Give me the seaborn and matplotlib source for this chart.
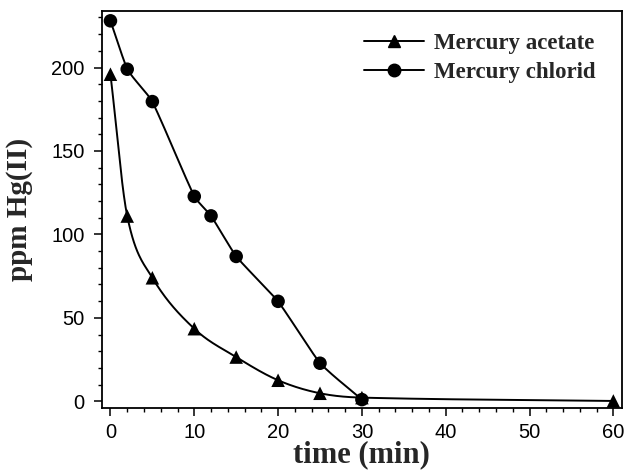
import numpy as np
import pandas as pd
import matplotlib
matplotlib.use("Agg")
import matplotlib.pyplot as plt
from matplotlib.lines import Line2D
from matplotlib.ticker import MultipleLocator
import seaborn as sns

# ---- data ----
acetate_time = [0, 2, 5, 10, 15, 20, 25, 30, 60]
acetate_ppm = [196, 111, 74, 43.5, 26.5, 12.6, 4.8, 2.2, 0.2]
chlorid_time = [0, 2, 5, 10, 12, 15, 20, 25, 30]
chlorid_ppm = [228, 199, 179.6, 122.8, 111.1, 86.8, 59.9, 22.8, 1.0]
series_names = ["Mercury acetate", "Mercury chlorid"]
x_ticks = [0, 10, 20, 30, 40, 50, 60]
y_ticks = [0, 50, 100, 150, 200]


def smooth_connect(x, y, xs, tension=0.0):
    """Cardinal (finite-difference Hermite) curve through the points, for drawing the line."""
    x = np.asarray(x, float); y = np.asarray(y, float)
    n = len(x); h = np.diff(x)
    m = np.empty(n)
    m[0] = (y[1] - y[0]) / h[0]
    m[-1] = (y[-1] - y[-2]) / h[-1]
    m[1:-1] = (y[2:] - y[:-2]) / (x[2:] - x[:-2])
    idx = np.clip(np.searchsorted(x, xs) - 1, 0, n - 2)
    t = (xs - x[idx]) / h[idx]
    chord = (y[idx + 1] - y[idx]) / h[idx]
    m0 = (1 - tension) * m[idx] + tension * chord
    m1 = (1 - tension) * m[idx + 1] + tension * chord
    h00 = 2 * t**3 - 3 * t**2 + 1; h10 = t**3 - 2 * t**2 + t
    h01 = -2 * t**3 + 3 * t**2; h11 = t**3 - t**2
    return h00 * y[idx] + h10 * h[idx] * m0 + h01 * y[idx + 1] + h11 * h[idx] * m1


sns.set_theme(style="ticks")
plt.rcParams["font.family"] = ["Liberation Sans", "DejaVu Sans"]

fig = plt.figure(figsize=(6.27, 4.70), dpi=100)
ax = fig.add_axes([0.1628, 0.132, 0.8288, 0.845])

points = pd.concat([
    pd.DataFrame({"time": acetate_time, "ppm": acetate_ppm, "series": series_names[0]}),
    pd.DataFrame({"time": chlorid_time, "ppm": chlorid_ppm, "series": series_names[1]}),
])

curves = []
for name, tx, ty, ten in [(series_names[0], acetate_time, acetate_ppm, 0.0),
                          (series_names[1], chlorid_time, chlorid_ppm, 0.6)]:
    xs = np.linspace(tx[0], tx[-1], 600)
    curves.append(pd.DataFrame({"time": xs, "ppm": smooth_connect(tx, ty, xs, ten),
                                "series": name}))
curves = pd.concat(curves)

sns.lineplot(data=curves, x="time", y="ppm", hue="series",
             palette=["black", "black"], linewidth=1.4, ax=ax, legend=False,
             sort=False, estimator=None)
sns.scatterplot(data=points, x="time", y="ppm", style="series",
                markers={series_names[0]: "^", series_names[1]: "o"},
                color="black", s=95, edgecolor="black", linewidth=0,
                ax=ax, legend=False, zorder=3)

ax.set_xlim(-1, 61)
ax.set_ylim(-4, 234)
ax.set_xticks(x_ticks)
ax.set_yticks(y_ticks)
ax.xaxis.set_minor_locator(MultipleLocator(2))
ax.yaxis.set_minor_locator(MultipleLocator(10))
ax.tick_params(which="major", direction="out", length=5.5, width=1.1,
               labelsize=14.5, colors="black")
ax.tick_params(axis="y", which="major", pad=7)
ax.tick_params(axis="x", which="major", pad=5)
ax.tick_params(which="minor", direction="out", length=3, width=1.0, colors="black")
for s in ax.spines.values():
    s.set_linewidth(1.3)
    s.set_color("black")
    s.set_visible(True)

ax.set_xlabel("time (min)", family=["Liberation Serif", "DejaVu Serif"],
              weight="bold", size=22, labelpad=-1)
ax.set_ylabel("ppm Hg(II)", family=["Liberation Serif", "DejaVu Serif"],
              weight="bold", size=21, labelpad=13)

handles = [
    Line2D([], [], color="black", marker="^", markersize=9, linewidth=1.4),
    Line2D([], [], color="black", marker="o", markersize=9, linewidth=1.4),
]
ax.legend(handles, series_names, loc="upper right", frameon=False,
          bbox_to_anchor=(0.985, 0.99), handlelength=2.6, handletextpad=0.45,
          labelspacing=0.35, borderpad=0.3,
          prop=dict(family=["Liberation Serif", "DejaVu Serif"], weight="bold", size=16.5))

fig.savefig("out.png", dpi=100)
